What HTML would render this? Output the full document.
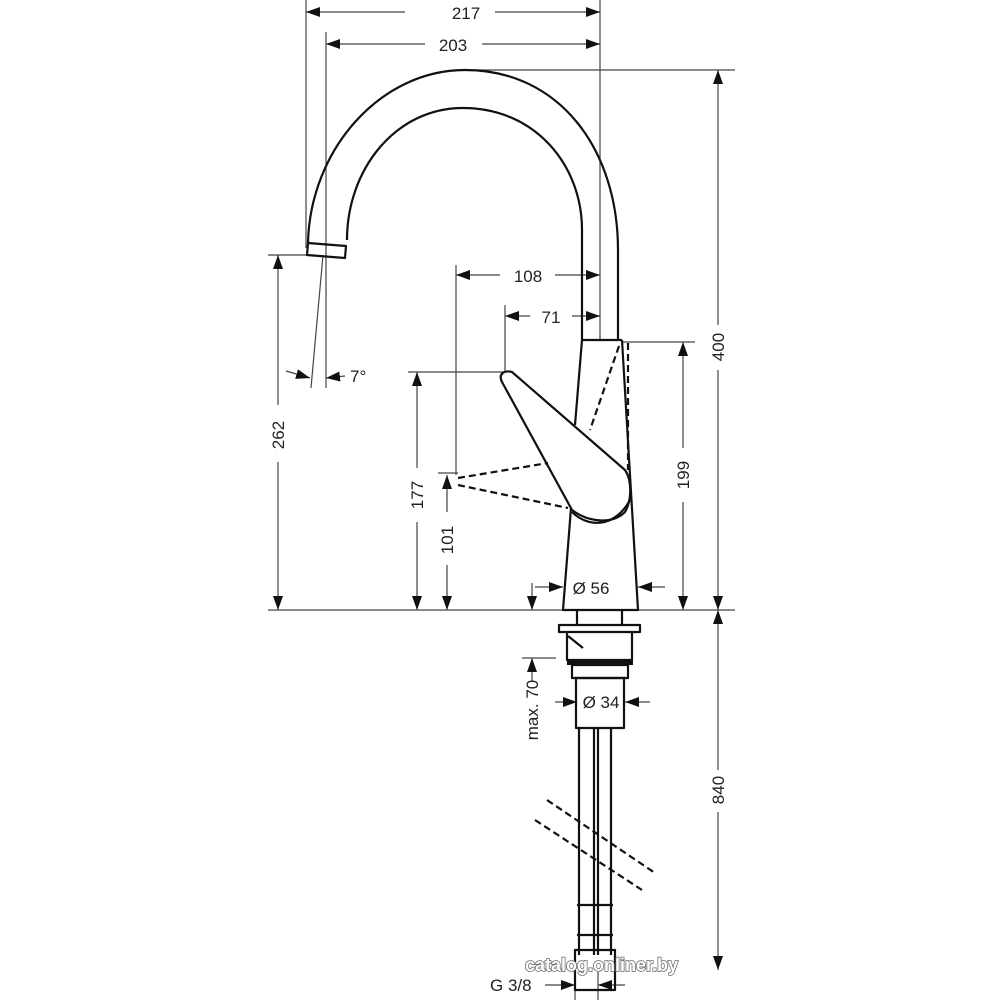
<!DOCTYPE html>
<html><head><meta charset="utf-8"><style>
html,body{margin:0;padding:0;background:#fff;}
svg{display:block;}
text{font-family:"Liberation Sans",sans-serif;font-size:17px;fill:#222;}
</style></head><body>
<svg width="1000" height="1000" viewBox="0 0 1000 1000" xmlns="http://www.w3.org/2000/svg">
<defs>
<marker id="a" viewBox="0 0 14 10" refX="14" refY="5" markerWidth="14" markerHeight="10" markerUnits="userSpaceOnUse" orient="auto-start-reverse">
<path d="M0,0 L14,5 L0,10 z" fill="#111"/></marker>
</defs>
<g stroke="#444" stroke-width="1.2" fill="none">
<line x1="306" y1="0" x2="306" y2="248"/>
<line x1="600" y1="0" x2="600" y2="340"/>
<line x1="326" y1="32" x2="326" y2="388"/>
<line x1="465" y1="70" x2="735" y2="70"/>
<line x1="268" y1="610" x2="735" y2="610"/>
<line x1="268" y1="255" x2="310" y2="255"/>
<line x1="456" y1="265" x2="456" y2="475"/>
<line x1="505" y1="305" x2="505" y2="372"/>
<line x1="408" y1="372" x2="505" y2="372"/>
<line x1="438" y1="473" x2="458" y2="473"/>
<line x1="622" y1="342" x2="695" y2="342"/>
<line x1="522" y1="658" x2="556" y2="658"/>
<line x1="311" y1="388" x2="323" y2="255"/>
<line x1="306" y1="12" x2="405" y2="12" marker-start="url(#a)"/><line x1="495" y1="12" x2="600" y2="12" marker-end="url(#a)"/>
<line x1="326" y1="44" x2="425" y2="44" marker-start="url(#a)"/><line x1="482" y1="44" x2="600" y2="44" marker-end="url(#a)"/>
<line x1="718" y1="70" x2="718" y2="325" marker-start="url(#a)"/><line x1="718" y1="370" x2="718" y2="610" marker-end="url(#a)"/>
<line x1="718" y1="610" x2="718" y2="770" marker-start="url(#a)"/><line x1="718" y1="812" x2="718" y2="970" marker-end="url(#a)"/>
<line x1="278" y1="255" x2="278" y2="405" marker-start="url(#a)"/><line x1="278" y1="462" x2="278" y2="610" marker-end="url(#a)"/>
<line x1="456" y1="275" x2="500" y2="275" marker-start="url(#a)"/><line x1="555" y1="275" x2="600" y2="275" marker-end="url(#a)"/>
<line x1="505" y1="316" x2="530" y2="316" marker-start="url(#a)"/><line x1="572" y1="316" x2="600" y2="316" marker-end="url(#a)"/>
<line x1="417" y1="372" x2="417" y2="468" marker-start="url(#a)"/><line x1="417" y1="522" x2="417" y2="610" marker-end="url(#a)"/>
<line x1="447" y1="475" x2="447" y2="512" marker-start="url(#a)"/><line x1="447" y1="565" x2="447" y2="610" marker-end="url(#a)"/>
<line x1="683" y1="342" x2="683" y2="448" marker-start="url(#a)"/><line x1="683" y1="502" x2="683" y2="610" marker-end="url(#a)"/>
<line x1="535" y1="587" x2="563" y2="587" marker-end="url(#a)"/><line x1="665" y1="587" x2="638" y2="587" marker-end="url(#a)"/>
<line x1="532" y1="583" x2="532" y2="610" marker-end="url(#a)"/>
<line x1="532" y1="658" x2="532" y2="682" marker-start="url(#a)"/>
<line x1="555" y1="702" x2="577" y2="702" marker-end="url(#a)"/><line x1="650" y1="702" x2="625" y2="702" marker-end="url(#a)"/>
<line x1="545" y1="985" x2="575" y2="985" marker-end="url(#a)"/><line x1="625" y1="985" x2="598" y2="985" marker-end="url(#a)"/>
<line x1="575" y1="972" x2="575" y2="1000"/><line x1="598" y1="972" x2="598" y2="1000"/>
<line x1="286" y1="371" x2="310" y2="378" marker-end="url(#a)"/><line x1="345" y1="376" x2="326" y2="378" marker-end="url(#a)"/>
</g>
<g stroke="#111" stroke-width="2.2" fill="none" stroke-linejoin="round">
<path d="M308,243 C310,150 380,70 465,70 C560,70 618,150 618,250 L618,340"/>
<path d="M347,240 C347,170 395,108 463,108 C535,108 582,165 582,230 L582,340"/>
<path d="M308,243 L346,246 L345,258 L307,255 Z"/>
<path d="M582,340 L622,340"/>
<path d="M582,340 L575,425"/>
<path d="M571,508 L563,610 L638,610 L622,340"/>
<path d="M512,372 L625,470 C632,480 632,500 625,512 C612,525 588,522 572,510 L502,382 C498,374 504,370 512,372 Z"/>
<path d="M572,512 C588,528 615,528 630,500"/>
<path d="M577,610 L577,625 M622,610 L622,625"/>
<rect x="559" y="625" width="81" height="7"/>
<path d="M567,632 L567,660 L632,660 L632,632"/>
<path d="M568,636 L583,648"/>
<rect x="572" y="665" width="56" height="13"/>
<rect x="576" y="678" width="48" height="50"/>
<path d="M579,728 L579,955 M594,728 L594,955 M598,728 L598,955 M611,728 L611,955"/>
<path d="M577,905 L613,905 M577,935 L613,935 M575,950 L615,950 L615,990 L575,990 Z"/>
</g>
<rect x="567" y="659" width="66" height="6" fill="#111"/>
<g stroke="#111" stroke-width="2.2" fill="none" stroke-dasharray="7,4">
<path d="M628,343 L628,470"/>
<path d="M619,346 L590,430"/>
<path d="M458,478 L548,463"/>
<path d="M458,485 L568,508"/>
<path d="M547,800 L655,873"/>
<path d="M535,820 L642,890"/>
</g>
<text x="466" y="19" text-anchor="middle">217</text>
<text x="453" y="51" text-anchor="middle">203</text>
<text x="528" y="282" text-anchor="middle">108</text>
<text x="551" y="323" text-anchor="middle">71</text>
<text x="350" y="382">7°</text>
<text x="591" y="594" text-anchor="middle">Ø 56</text>
<text x="601" y="708" text-anchor="middle">Ø 34</text>
<text x="490" y="991">G 3/8</text>
<text transform="translate(284,435) rotate(-90)" text-anchor="middle">262</text>
<text transform="translate(423,495) rotate(-90)" text-anchor="middle">177</text>
<text transform="translate(453,540) rotate(-90)" text-anchor="middle">101</text>
<text transform="translate(689,475) rotate(-90)" text-anchor="middle">199</text>
<text transform="translate(724,347) rotate(-90)" text-anchor="middle">400</text>
<text transform="translate(724,790) rotate(-90)" text-anchor="middle">840</text>
<text transform="translate(538,710) rotate(-90)" text-anchor="middle">max. 70</text>
<text x="525" y="971" style="font-size:18px;font-weight:bold;fill:#fff;stroke:#666;stroke-width:1.5;paint-order:stroke">catalog.onliner.by</text>
</svg>
</body></html>
